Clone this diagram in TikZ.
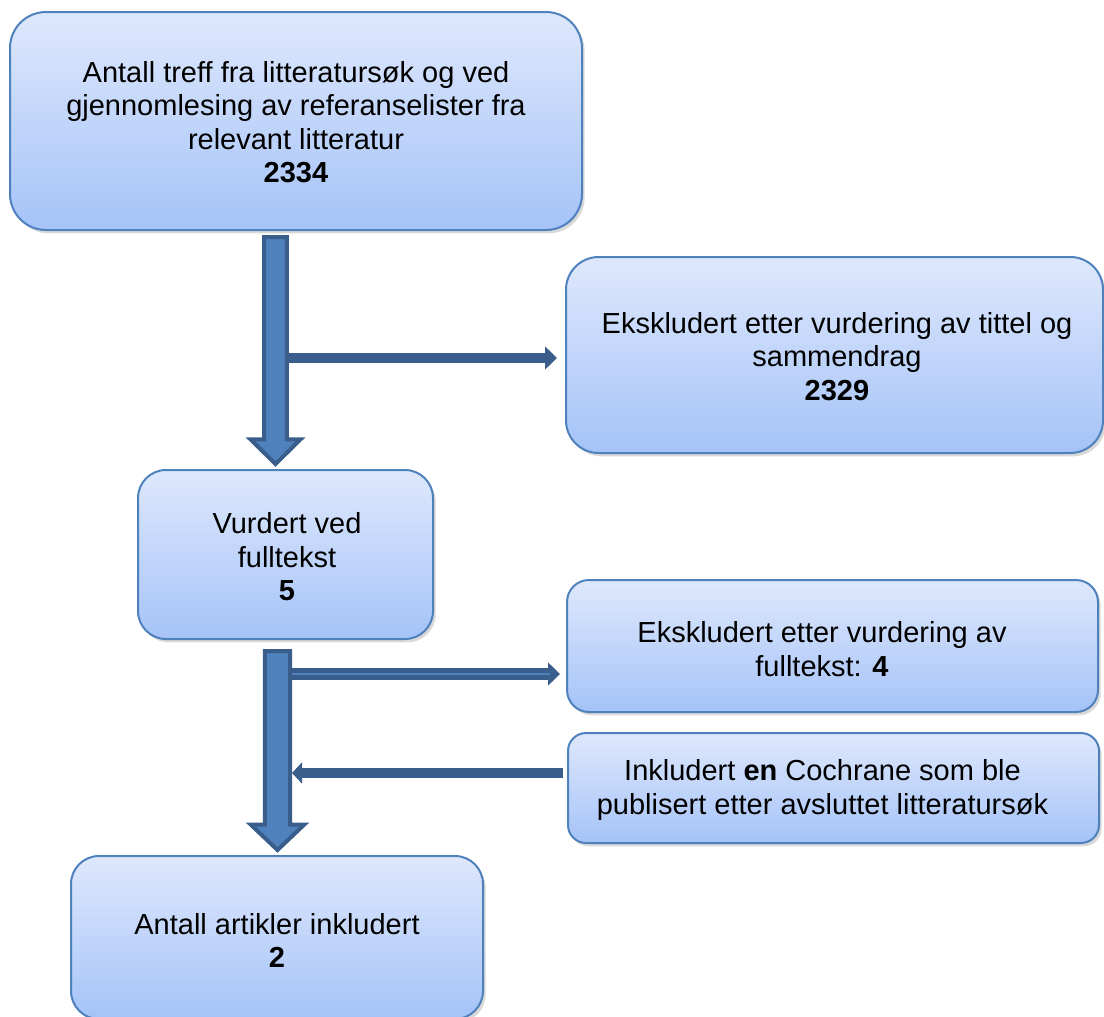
\documentclass[tikz,border=0pt]{standalone}
\usepackage{fontspec}
\setmainfont{Liberation Sans}
\usetikzlibrary{arrows.meta,calc,shadows}
\definecolor{boxtop}{HTML}{DEE8FC}
\definecolor{boxbot}{HTML}{A5C3F8}
\definecolor{boxline}{HTML}{4F81BD}
\definecolor{arrowfill}{HTML}{4F81BD}
\definecolor{arrowline}{HTML}{3A5E8C}
\tikzset{
  flowbox/.style={draw=boxline,line width=1.5pt,top color=boxtop,bottom color=boxbot,
    inner sep=0pt,outer sep=0pt,
    drop shadow={shadow xshift=2pt,shadow yshift=-2.5pt,opacity=0.25,fill=black!60}},
  boxtext/.style={align=center,inner sep=0pt,font=\fontsize{21.75}{25.1}\selectfont},
  sidearrow/.style={draw=arrowline,line width=7.5pt,
    -{Triangle[length=9pt,width=17.5pt,line width=0pt]}},
  bigarrow/.style={fill=arrowfill,draw=arrowline,line width=3pt,line join=miter},
}

\begin{document}
\begin{tikzpicture}[x=0.75pt,y=-0.75pt]
\useasboundingbox (0,0) rectangle (1104,1017);
\node[flowbox,minimum width=429pt,minimum height=163.5pt,rounded corners=27pt] (sok) at (296,121) {};
\node[flowbox,minimum width=402.75pt,minimum height=147pt,rounded corners=24.5pt] (eks1) at (834.5,355) {};
\node[flowbox,minimum width=221.25pt,minimum height=126.75pt,rounded corners=21pt] (vurd) at (285.5,554.5) {};
\node[flowbox,minimum width=398.25pt,minimum height=99pt,rounded corners=16.5pt] (eks2) at (832.5,646) {};
\node[flowbox,minimum width=398.25pt,minimum height=82.5pt,rounded corners=13.5pt] (inkl) at (833.5,788) {};
\node[flowbox,minimum width=309pt,minimum height=122.25pt,rounded corners=21pt] (ant) at (277,937.5) {};

\node[boxtext] (sokt) at ($(sok)+(0,1)$) {Antall treff fra litteratursøk og ved\\gjennomlesing av referanselister fra\\relevant litteratur\\\textbf{2334}};
\node[boxtext] (eks1t) at ($(eks1)+(2.5,1.5)$) {Ekskludert etter vurdering av tittel og\\sammendrag\\\textbf{2329}};
\node[boxtext] (vurdt) at ($(vurd)+(1.5,2.5)$) {Vurdert ved\\fulltekst\\\textbf{5}};
\node[boxtext] (eks2t) at ($(eks2)+(-10.5,3)$) {Ekskludert etter vurdering av\\fulltekst: \textbf{4}};
\node[boxtext] (inklt) at ($(inkl)+(-11,2)$) {Inkludert \textbf{en} Cochrane som ble\\publisert etter avsluttet litteratursøk};
\node[boxtext] (antt) at ($(ant)+(0,3)$) {Antall artikler inkludert\\\textbf{2}};

\coordinate (d1s) at ($(sok.south)+(-20.5,7)$);
\coordinate (d1e) at ($(vurd.north)+(-10,-6)$);
\coordinate (d2s) at ($(vurd.south)+(-8,12)$);
\coordinate (d2e) at ($(ant.north)+(0.5,-6)$);
\coordinate (h1s) at (d1s |- 0,358);
\coordinate (h1e) at ($(eks1.west)+(-9,3)$);
\coordinate (h2s) at (d2s |- 0,674);
\coordinate (h2e) at ($(eks2.west)+(-7,28)$);
\coordinate (h3s) at ($(inkl.west)+(-5,-15)$);
\coordinate (h3e) at (292,773);

\draw[sidearrow] (h1s) -- (h1e);
\draw[sidearrow,line width=9pt] (h2s) -- (h2e);
\draw[arrowfill,line width=1.5pt] (h2s) -- ($(h2e)+(-10,0)$);
\draw[sidearrow,-{Triangle[length=7.5pt,width=16pt,line width=0pt]}] (h3s) -- (h3e);

\filldraw[bigarrow] let \p1=(d1s), \p2=(d1e) in
  (\x1-8.6pt,\y1) -- (\x1+8.6pt,\y1) -- (\x1+8.6pt,\y2+18.5pt) -- (\x1+18.8pt,\y2+18.5pt)
  -- (\x2,\y2) -- (\x1-18.8pt,\y2+18.5pt) -- (\x1-8.6pt,\y2+18.5pt) -- cycle;
\filldraw[bigarrow] let \p1=(d2s), \p2=(d2e) in
  (\x1-9.4pt,\y1) -- (\x1+9.4pt,\y1) -- (\x1+9.4pt,\y2+19pt) -- (\x1+20pt,\y2+19pt)
  -- (\x2,\y2) -- (\x1-20pt,\y2+19pt) -- (\x1-9.4pt,\y2+19pt) -- cycle;
\end{tikzpicture}
\end{document}
